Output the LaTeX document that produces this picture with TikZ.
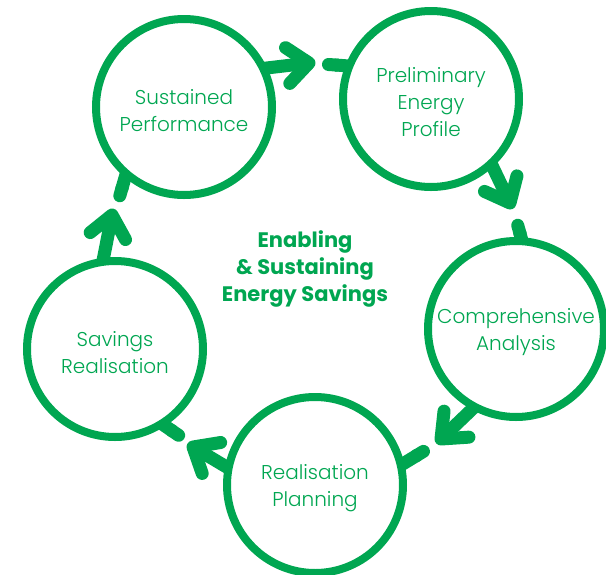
\documentclass[tikz,border=0pt]{standalone}
\usepackage{fontspec}
\usetikzlibrary{calc,arrows.meta}
\IfFontExistsTF{Poppins Light}{\newfontfamily\stagefont{Poppins Light}}{\newfontfamily\stagefont{Lato}}
\newfontfamily\titlefont{Poppins}
\definecolor{ecogreen}{RGB}{0,166,81}
\tikzset{
  stage/.style={circle, draw=ecogreen, line width=8pt, minimum size=176pt,
    inner sep=0pt, outer sep=0pt},
  stagetext/.style={text=ecogreen, align=center, yshift=-3.5pt,
    font=\stagefont\fontsize{20}{27}\selectfont},
  flow/.style={draw=ecogreen, line width=13pt, line cap=butt},
  head/.style={flow, line cap=round, line join=round}
}
\begin{document}
\begin{tikzpicture}[x=1pt, y=-1pt]
    \useasboundingbox (0,0) rectangle (606,574);

    \node[stage] (sp) at (184,107) {};
    \node[stage] (pep) at (431,99) {};
    \node[stage] (ca) at (516,329) {};
    \node[stage] (rp) at (315,485) {};
    \node[stage] (sr) at (115,349) {};

    \node[stagetext] (sp-text) at (sp) {Sustained\\Performance};
    \node[stagetext] (pep-text) at (pep) {Preliminary\\Energy\\Profile};
    \node[stagetext] (ca-text) at (ca) {Comprehensive\\Analysis};
    \node[stagetext] (rp-text) at (rp) {Realisation\\Planning};
    \node[stagetext] (sr-text) at (sr) {Savings\\Realisation};

    \node[text=ecogreen, align=center, font=\titlefont\bfseries\fontsize{21}{27}\selectfont]
      (title) at (305,269) {Enabling\\\& Sustaining\\Energy Savings};

    % tips and stub ends between the stages
    \coordinate (t1) at (309,63);  \coordinate (s1) at (322,64);
    \coordinate (t2) at (510,203); \coordinate (s2) at (516,219);
    \coordinate (t3) at (441,439); \coordinate (s3) at (429,448);
    \coordinate (t4) at (193,447); \coordinate (s4) at (184,439);
    \coordinate (t5) at (112,215); \coordinate (s5) at (118,202);

    \draw[flow] (sp.26) -- (t1);
    \draw[head] ($(t1)!28pt!40:(sp.26)$) -- (t1) -- ($(t1)!28pt!-40:(sp.26)$);
    \draw[flow, Round Cap-] (s1) -- (pep.158);

    \draw[flow] (pep.-47) -- (t2);
    \draw[head] ($(t2)!28pt!40:(pep.-47)$) -- (t2) -- ($(t2)!28pt!-40:(pep.-47)$);
    \draw[flow, Round Cap-] (s2) -- (ca.86);

    \draw[flow] (ca.-118) -- (t3);
    \draw[head] ($(t3)!28pt!40:(ca.-118)$) -- (t3) -- ($(t3)!28pt!-40:(ca.-118)$);
    \draw[flow, Round Cap-] (s3) -- (rp.13);

    \draw[flow] (rp.169) -- (t4);
    \draw[head] ($(t4)!28pt!40:(rp.169)$) -- (t4) -- ($(t4)!28pt!-40:(rp.169)$);
    \draw[flow, Round Cap-] (s4) -- (sr.-58);

    \draw[flow] (sr.98) -- (t5);
    \draw[head] ($(t5)!28pt!40:(sr.98)$) -- (t5) -- ($(t5)!28pt!-40:(sr.98)$);
    \draw[flow, Round Cap-] (s5) -- (sp.-131);

\end{tikzpicture}
\end{document}
